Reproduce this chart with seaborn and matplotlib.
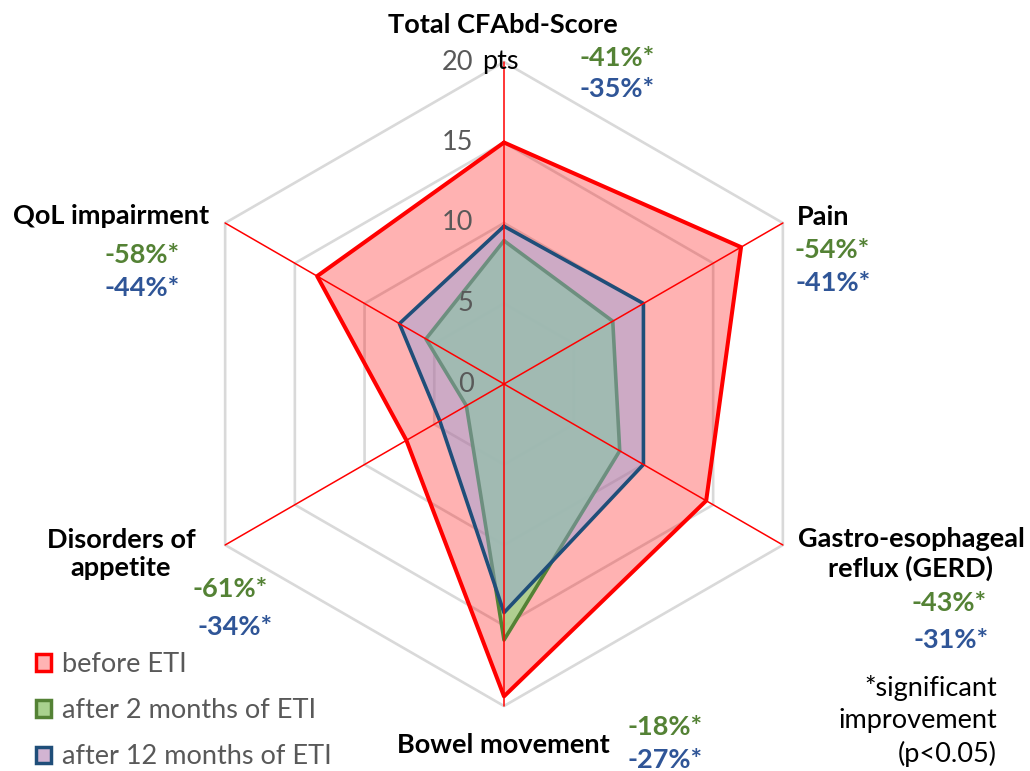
import numpy as np
import matplotlib
matplotlib.use("Agg")
import matplotlib.pyplot as plt
import seaborn as sns
import pandas as pd
from matplotlib.patches import Patch

# ---------------- data ----------------
categories = ["Total CFAbd-Score", "Pain", "Gastro-esophageal\nreflux (GERD)",
              "Bowel movement", "Disorders of\nappetite", "QoL impairment"]
before_eti = [15.0, 17.0, 14.5, 19.4, 7.0, 13.4]
after_2m = [8.9, 7.8, 8.3, 15.9, 2.7, 5.6]
after_12m = [9.8, 10.0, 10.0, 14.2, 4.6, 7.5]
change_2m = ["-41%*", "-54%*", "-43%*", "-18%*", "-61%*", "-58%*"]
change_12m = ["-35%*", "-41%*", "-31%*", "-27%*", "-34%*", "-44%*"]
tick_values = [0, 5, 10, 15, 20]
series_names = ["before ETI", "after 2 months of ETI", "after 12 months of ETI"]

# ---------------- style ----------------
sns.set_theme(style="white")
plt.rcParams['font.family'] = ['Lato', 'DejaVu Sans']
FS = 19.5

W, H = 1030, 771
fig = plt.figure(figsize=(W / 100, H / 100), dpi=100)
ax = fig.add_axes([0, 0, 1, 1])
cx, cy, scale = 504, 384, 16.1   # centre (px) and px per unit
ax.set_xlim(-cx / scale, (W - cx) / scale)
ax.set_ylim(-(H - cy) / scale, cy / scale)
ax.set_aspect('equal')
ax.axis('off')

n = len(categories)
angles = np.deg2rad(90 - 60 * np.arange(n))


def to_xy(vals):
    v = np.asarray(vals, dtype=float)
    x = v * np.cos(angles)
    y = v * np.sin(angles)
    return np.append(x, x[0]), np.append(y, y[0])


def px(xp, yp):
    return xp / W, 1 - yp / H


# grid hexagons
for t in tick_values[1:]:
    gx, gy = to_xy([t] * n)
    ax.plot(gx, gy, color='#D9D9D9', lw=1.9, zorder=1)

# series
red_line, red_fill = '#FF0000', (1.0, 0.0, 0.0, 0.30)
green_line, green_fill = '#548235', (0.663, 0.820, 0.557, 0.92)
blue_line, blue_fill = '#1F4E79', (0.56, 0.63, 0.87, 0.44)

bx, by = to_xy(before_eti)
ax.fill(bx, by, color=red_fill, lw=0, zorder=2)
gx2, gy2 = to_xy(after_2m)
ax.fill(gx2, gy2, color=green_fill, lw=0, zorder=3)
df_g = pd.DataFrame({"x": gx2, "y": gy2})
sns.lineplot(data=df_g, x="x", y="y", sort=False, estimator=None, ax=ax,
             color=green_line, lw=2.6, zorder=3.5)
ux, uy = to_xy(after_12m)
ax.fill(ux, uy, color=blue_fill, lw=0, zorder=4)
df_u = pd.DataFrame({"x": ux, "y": uy})
sns.lineplot(data=df_u, x="x", y="y", sort=False, estimator=None, ax=ax,
             color=blue_line, lw=2.6, zorder=5)
df_b = pd.DataFrame({"x": bx, "y": by})
sns.lineplot(data=df_b, x="x", y="y", sort=False, estimator=None, ax=ax,
             color=red_line, lw=2.9, zorder=6)

# spokes
for a in angles:
    ax.plot([0, 20 * np.cos(a)], [0, 20 * np.sin(a)], color='#FF0000', lw=1.1, zorder=7)

# radial tick labels
for t in tick_values:
    ax.text(-1.9, t, str(t), ha='right', va='center', fontsize=FS,
            color='#595959', zorder=8)
ax.text(-1.35, 20, "pts", ha='left', va='center', fontsize=FS, color='black', zorder=8)

# category labels
cat_pos = [(503, 25), (823, 217), (911, 554), (503, 745), (121, 554), (111, 216)]
for lab, (xp, yp) in zip(categories, cat_pos):
    fig.text(*px(xp, yp), lab, ha='center', va='center', fontsize=FS,
             fontweight='bold', color='black', linespacing=1.2)

g_pos = [(617, 58), (832, 250), (949, 603), (665, 727), (230, 589), (142, 255)]
b_pos = [(617, 89), (833, 283), (951, 640), (665, 760), (235, 627), (142, 288)]
for lab, (xp, yp) in zip(change_2m, g_pos):
    fig.text(*px(xp, yp), lab, ha='center', va='center', fontsize=FS,
             fontweight='bold', color='#548235')
for lab, (xp, yp) in zip(change_12m, b_pos):
    fig.text(*px(xp, yp), lab, ha='center', va='center', fontsize=FS,
             fontweight='bold', color='#2F5597')

fig.text(*px(997, 721), "*significant\nimprovement\n(p<0.05)", ha='right',
         va='center', multialignment='right', fontsize=FS, color='black',
         linespacing=1.38)

# legend
handles = [
    Patch(facecolor='#FFB3B3', edgecolor='#FF0000', lw=2.5),
    Patch(facecolor='#A9D18E', edgecolor='#548235', lw=2.5),
    Patch(facecolor='#D2B4D2', edgecolor='#1F4E79', lw=2.5),
]
leg = fig.legend(handles, series_names, loc='upper left',
                 bbox_to_anchor=px(36, 652), frameon=False, fontsize=FS,
                 handlelength=0.55, handleheight=0.55, handletextpad=0.4,
                 labelspacing=0.78, borderpad=0, borderaxespad=0)
for txt in leg.get_texts():
    txt.set_color('#595959')

fig.savefig("out.png", dpi=100)
